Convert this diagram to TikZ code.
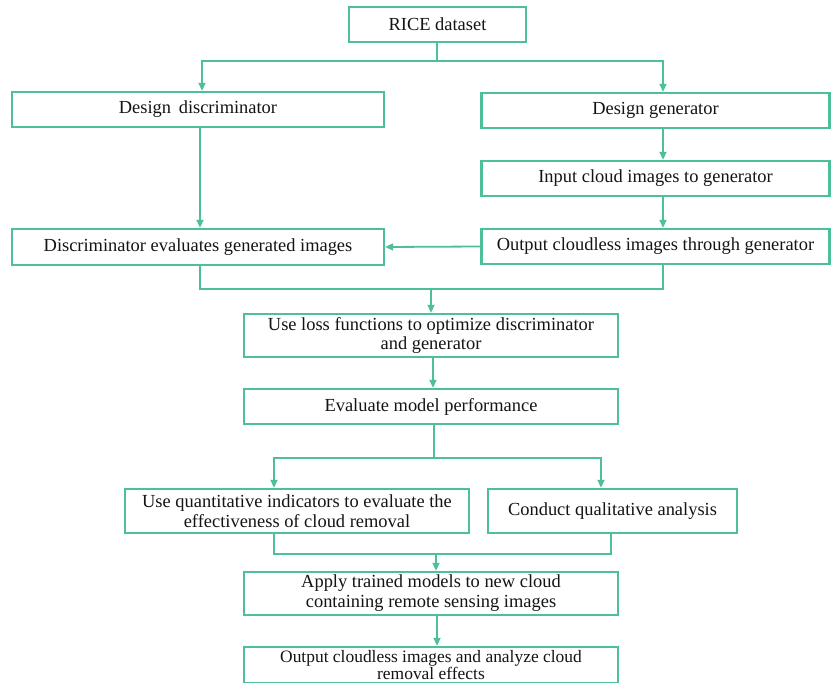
\documentclass[tikz,border=0pt]{standalone}
\usepackage{fontspec}
\setmainfont{Liberation Serif}
\usetikzlibrary{arrows.meta,calc}
\definecolor{mint}{RGB}{78,192,152}
\tikzset{
  box/.style={draw=mint, line width=2.4bp, fill=white, align=center, inner sep=1bp,
    font=\fontsize{18.5}{20}\selectfont, text=black!92},
  line/.style={draw=mint, line width=1.8bp},
  arr/.style={line, -{Triangle[length=8bp,width=7bp]}}
}
\begin{document}
\begin{tikzpicture}[x=1bp,y=-1bp]
\useasboundingbox (0,0) rectangle (831,683);
\node[box, minimum width=177bp, minimum height=35bp] (rice) at (437.5,24.5) {RICE dataset};
\node[box, minimum width=372bp, minimum height=35bp] (dd) at (198,109.5) {Design\, discriminator};
\node[box, minimum width=348bp, minimum height=35bp] (dg) at (655.5,110.5) {Design generator};
\node[box, minimum width=348bp, minimum height=35bp] (ig) at (655.5,178.5) {Input cloud images to generator};
\node[box, minimum width=372bp, minimum height=36bp] (de) at (198,247) {Discriminator evaluates generated images};
\node[box, minimum width=348bp, minimum height=35bp] (og) at (655.5,246.5) {Output cloudless images through generator};
\node[box, minimum width=374bp, minimum height=43bp] (loss) at (431,335.5) {Use loss functions to optimize discriminator\\and generator};
\node[box, minimum width=374bp, minimum height=35bp] (eval) at (431,406.5) {Evaluate model performance};
\node[box, minimum width=344bp, minimum height=44bp] (quant) at (297,511) {Use quantitative indicators to evaluate the\\effectiveness of cloud removal};
\node[box, minimum width=249bp, minimum height=44bp] (qual) at (612.5,511) {Conduct qualitative analysis};
\node[box, minimum width=374bp, minimum height=43bp] (apply) at (431,593.5) {Apply trained models to new cloud\\containing remote sensing images};
\node[box, minimum width=374bp, minimum height=36bp, inner sep=0pt, font=\fontsize{17.5}{16}\selectfont] (out) at (431,665) {Output cloudless images and analyze cloud\\removal effects};

\coordinate (j1) at (437,61);
\draw[line] ([xshift=-0.5bp]rice.south) -- (j1);
\draw[arr] (j1) -| ([xshift=4bp]dd.north);
\draw[arr] (j1) -| ([xshift=7.5bp]dg.north);
\draw[arr] ([xshift=2bp]dd.south) -- ([xshift=2bp]de.north);
\draw[arr] ([xshift=7.5bp]dg.south) -- ([xshift=7.5bp]ig.north);
\draw[arr] ([xshift=7.5bp]ig.south) -- ([xshift=7.5bp]og.north);
\draw[arr] (og.west) -- (de.east);

\coordinate (j2) at (431,289);
\draw[line] ([xshift=2bp]de.south) |- (j2) -| ([xshift=7.5bp]og.south);
\draw[arr] (j2) -- (loss.north);
\draw[arr] ([xshift=2bp]loss.south) -- ([xshift=2bp]eval.north);

\coordinate (j3) at (434,458);
\draw[line] ([xshift=3bp]eval.south) -- (j3);
\draw[arr] (j3) -| ([xshift=-23bp]quant.north);
\draw[arr] (j3) -| ([xshift=-11.5bp]qual.north);

\coordinate (j4) at (436,554);
\draw[line] ([xshift=-23bp]quant.south) |- (j4) -| ([xshift=-1.5bp]qual.south);
\draw[arr] (j4) -- ([xshift=5bp]apply.north);
\draw[arr] ([xshift=6bp]apply.south) -- ([xshift=6bp]out.north);
\end{tikzpicture}
\end{document}
